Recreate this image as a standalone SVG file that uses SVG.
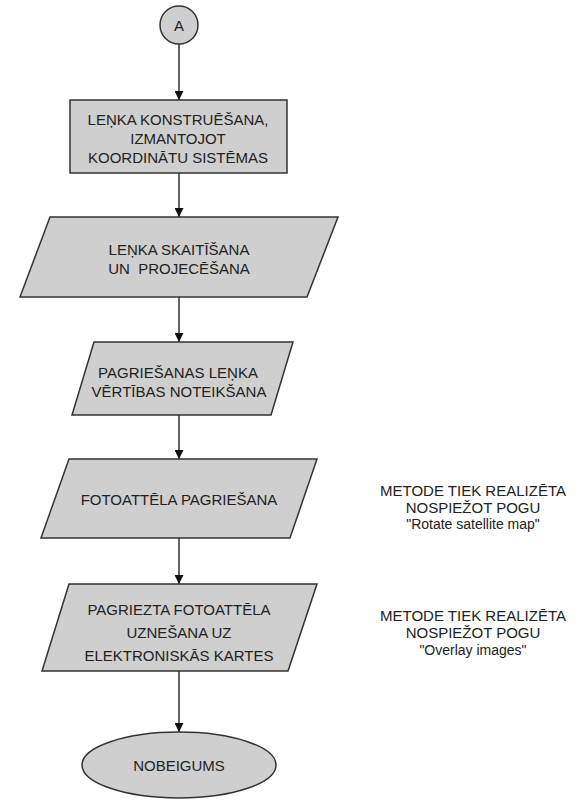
<svg xmlns="http://www.w3.org/2000/svg" width="587" height="802" viewBox="0 0 587 802">
<defs>
<style>
.shape{fill:#cfcfcf;stroke:#333;stroke-width:1.5}
.t{font-family:"Liberation Sans",Arial,sans-serif;font-size:15px;fill:#222;text-anchor:middle}
.s{font-size:14px}
.c{stroke:#111;stroke-width:1.3;fill:none;marker-end:url(#ah)}
</style>
<marker id="ah" viewBox="0 0 10 10" refX="10" refY="5" markerWidth="9" markerHeight="9" markerUnits="userSpaceOnUse" orient="auto">
<path d="M0,0 L10,5 L0,10 z" fill="#111"/>
</marker>
</defs>
<rect width="587" height="802" fill="#fff"/>
<g id="connectors">
<line class="c" x1="179" y1="44" x2="179" y2="100"/>
<line class="c" x1="179" y1="173" x2="179" y2="217"/>
<line class="c" x1="179" y1="297" x2="179" y2="342"/>
<line class="c" x1="179" y1="415" x2="179" y2="459"/>
<line class="c" x1="179" y1="538" x2="179" y2="584"/>
<line class="c" x1="179" y1="671" x2="179" y2="732"/>
</g>
<g id="start">
<circle class="shape" cx="179" cy="25" r="19"/>
<text class="t" x="179" y="31">A</text>
</g>
<g id="n1">
<rect class="shape" x="70" y="100" width="217" height="73"/>
<text class="t" x="178" y="125">LEŅKA KONSTRUĒŠANA,</text>
<text class="t" x="178" y="144">IZMANTOJOT</text>
<text class="t" x="178" y="163">KOORDINĀTU SISTĒMAS</text>
</g>
<g id="n2">
<polygon class="shape" points="50,217 338,217 307,297 20,297"/>
<text class="t" x="179" y="255">LEŅKA SKAITĪŠANA</text>
<text class="t" x="179" y="274" xml:space="preserve">UN  PROJECĒŠANA</text>
</g>
<g id="n3">
<polygon class="shape" points="94,342 293,342 271,415 72,415"/>
<text class="t" x="178" y="378">PAGRIEŠANAS LEŅKA</text>
<text class="t" x="179" y="397">VĒRTĪBAS NOTEIKŠANA</text>
</g>
<g id="n4">
<polygon class="shape" points="69,459 317,459 290,538 41,538"/>
<text class="t" x="179" y="505">FOTOATTĒLA PAGRIEŠANA</text>
</g>
<g id="n5">
<polygon class="shape" points="69,584 317,584 288,671 42,671"/>
<text class="t" x="179" y="615">PAGRIEZTA FOTOATTĒLA</text>
<text class="t" x="179" y="638">UZNEŠANA UZ</text>
<text class="t" x="179" y="661">ELEKTRONISKĀS KARTES</text>
</g>
<g id="end">
<ellipse class="shape" cx="179" cy="765" rx="97" ry="33"/>
<text class="t" x="179" y="771">NOBEIGUMS</text>
</g>
<g id="note1">
<text class="t" x="473" y="496">METODE TIEK REALIZĒTA</text>
<text class="t" x="473" y="513">NOSPIEŽOT POGU</text>
<text class="t s" x="473" y="529">"Rotate satellite map"</text>
</g>
<g id="note2">
<text class="t" x="473" y="621">METODE TIEK REALIZĒTA</text>
<text class="t" x="473" y="638">NOSPIEŽOT POGU</text>
<text class="t s" x="473" y="655">"Overlay images"</text>
</g>
</svg>
